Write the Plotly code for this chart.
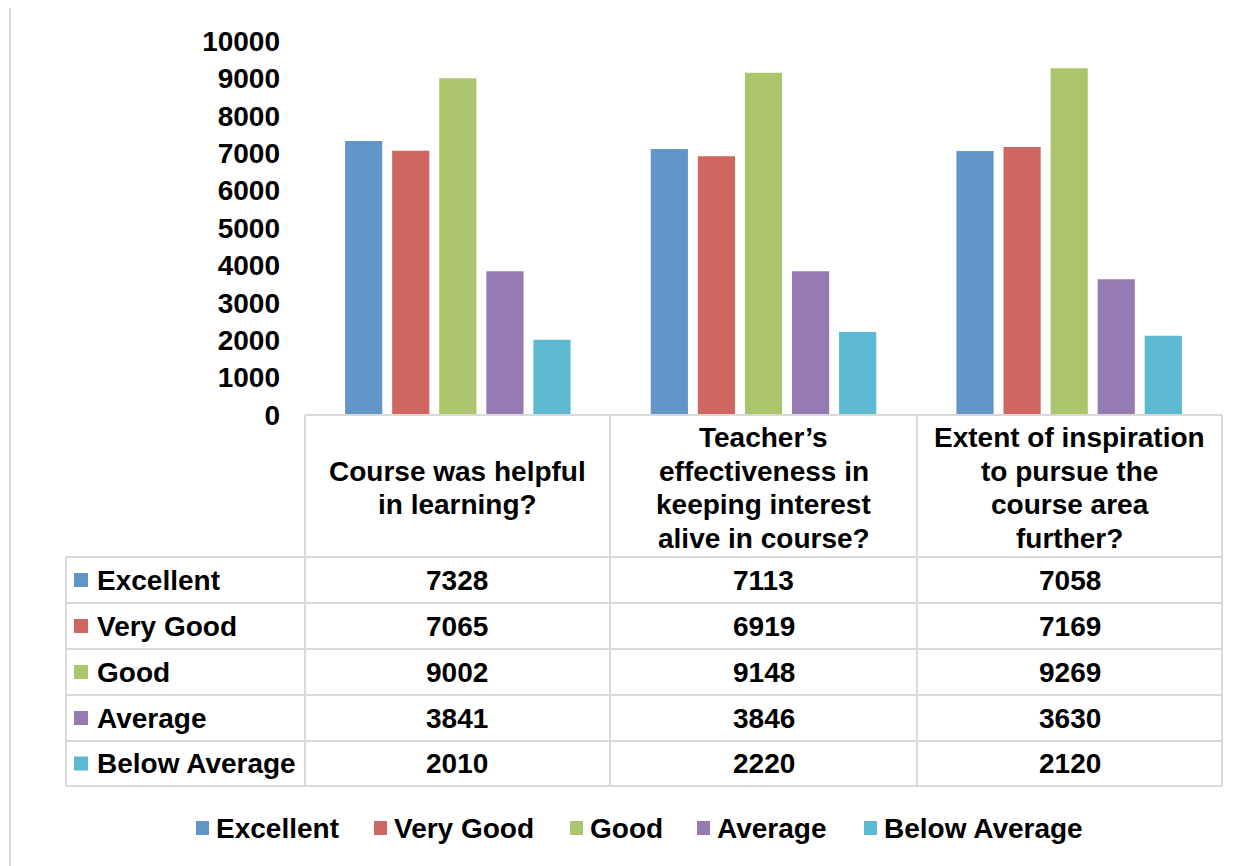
import plotly.graph_objects as go

# ---------------- data ----------------
questions = [
    "Course was helpful<br>in learning?",
    "Teacher’s<br>effectiveness in<br>keeping interest<br>alive in course?",
    "Extent of inspiration<br>to pursue the<br>course area<br>further?",
]
series_names = ["Excellent", "Very Good", "Good", "Average", "Below Average"]
excellent = [7328, 7113, 7058]
very_good = [7065, 6919, 7169]
good = [9002, 9148, 9269]
average = [3841, 3846, 3630]
below_average = [2010, 2220, 2120]
series_values = [excellent, very_good, good, average, below_average]
colors = ["#6296C9", "#CF665F", "#ACC46C", "#957BB2", "#5CB9D1"]
y_ticks = list(range(0, 10001, 1000))

# ---------------- layout helpers (pixel -> paper) ----------------
W, H = 1254, 866
OX, OY = 8, 8   # page body margin compensation
def px(x):
    return (x - OX) / W
def py(y):
    return 1 - (y - OY) / H

FONT = "Liberation Sans, Arial, sans-serif"
FS = 28
GRID = "#D9D9D9"

plot_left, plot_right = 305, 1222
y_zero, y_top = 415, 41

fig = go.Figure()
cats = [0, 1, 2]
for name, vals, col in zip(series_names, series_values, colors):
    fig.add_trace(go.Bar(x=cats, y=vals, name=name, marker=dict(color=col, line=dict(width=0)),
                         showlegend=False))

shapes = []
annotations = []

def text(x, y, s, anchor="center"):
    annotations.append(dict(xref="paper", yref="paper", x=px(x), y=py(y), text="<b>" + s + "</b>",
                            showarrow=False, xanchor=anchor, yanchor="middle", align="center",
                            font=dict(family=FONT, size=FS, color="black")))

# outer chart border (top & left visible)
shapes.append(dict(type="rect", xref="paper", yref="paper", x0=px(10), x1=px(1275),
                   y0=py(5), y1=py(885), line=dict(color=GRID, width=2), layer="below"))

# table lines
col_x = [305, 610, 917, 1222]
row_y = [557, 603, 649, 695, 741, 786]
line_style = dict(color=GRID, width=2)
shapes.append(dict(type="line", xref="paper", yref="paper", x0=px(305), x1=px(1222),
                   y0=py(415), y1=py(415), line=line_style))
for x in col_x:
    shapes.append(dict(type="line", xref="paper", yref="paper", x0=px(x), x1=px(x),
                       y0=py(415), y1=py(786), line=line_style))
shapes.append(dict(type="line", xref="paper", yref="paper", x0=px(66), x1=px(66),
                   y0=py(557), y1=py(786), line=line_style))
for y in row_y:
    shapes.append(dict(type="line", xref="paper", yref="paper", x0=px(66), x1=px(1222),
                       y0=py(y), y1=py(y), line=line_style))

# header texts (one annotation per line for tighter line spacing)
header_center, line_gap = 488, 33.5
for i, q in enumerate(questions):
    cx = (col_x[i] + col_x[i + 1]) / 2
    lines = q.split("<br>")
    n = len(lines)
    for k, ln in enumerate(lines):
        text(cx, header_center + (k - (n - 1) / 2) * line_gap, ln)

# rows
for r, (name, vals, col) in enumerate(zip(series_names, series_values, colors)):
    cy = (row_y[r] + row_y[r + 1]) / 2
    shapes.append(dict(type="rect", xref="paper", yref="paper", x0=px(74), x1=px(88),
                       y0=py(cy - 7), y1=py(cy + 7), fillcolor=col, line=dict(width=0)))
    text(95, cy, name, "left")
    for i, v in enumerate(vals):
        cx = (col_x[i] + col_x[i + 1]) / 2
        text(cx, cy, "%d" % v)

# bottom legend
legend_sq = [196, 374, 570, 697, 864]
legend_y = 828
for name, col, sx in zip(series_names, colors, legend_sq):
    shapes.append(dict(type="rect", xref="paper", yref="paper", x0=px(sx), x1=px(sx + 13),
                       y0=py(legend_y - 7), y1=py(legend_y + 7), fillcolor=col, line=dict(width=0)))
    text(sx + 18, legend_y, name, "left")

fig.update_layout(
    width=W, height=H,
    margin=dict(l=0, r=0, t=0, b=0, autoexpand=False),
    paper_bgcolor="white", plot_bgcolor="white",
    barmode="group", bargap=0.23, bargroupgap=0.21,
    showlegend=False,
    shapes=shapes, annotations=annotations,
    xaxis=dict(domain=[px(plot_left), px(plot_right)], range=[-0.5, 2.5], automargin=False,
               showticklabels=False, showgrid=False, zeroline=False, showline=False, ticks=""),
    yaxis=dict(domain=[py(y_zero), py(y_top)], range=[0, 10000], tickvals=y_ticks,
               ticktext=["<b>%d</b>" % t for t in y_ticks], automargin=False,
               showgrid=False, zeroline=False, showline=False, ticks="",
               ticklabelstandoff=24,
               tickfont=dict(family=FONT, size=FS, color="black")),
)

fig.write_html("out.html")
